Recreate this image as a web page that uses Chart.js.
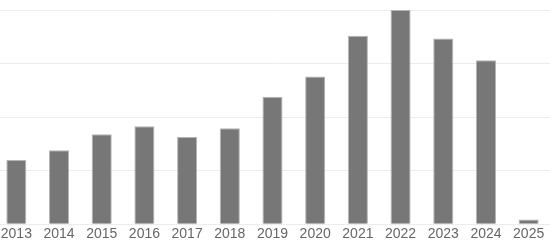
<!DOCTYPE html>
<html>
<head>
<meta charset="utf-8">
<script src="https://cdn.jsdelivr.net/npm/chart.js@4"></script>
<style>
    html, body { margin: 0; padding: 0; background: #fff; overflow: hidden; }
    #wrap { position: absolute; left: -5px; top: 0; width: 555px; height: 245px; }
</style>
</head>
<body>
<div id="wrap"><canvas id="yearChart"></canvas></div>
<script>
const years = ['2013', '2014', '2015', '2016', '2017', '2018', '2019',
    '2020', '2021', '2022', '2023', '2024', '2025'];
const counts = [120, 138, 168, 183, 163, 179, 238, 276, 352, 400, 347, 306, 9];
const yTicks = [0, 100, 200, 300, 400];

document.addEventListener('DOMContentLoaded', () => {
    const ctx = document.getElementById('yearChart');

    new Chart(ctx, {
        type: 'bar',
        data: {
            labels: years,
            datasets: [{
                label: 'Count',
                data: counts,
                backgroundColor: '#777777',
                borderColor: '#b5b5b5',
                borderWidth: 1,
                categoryPercentage: 1,
                barPercentage: 0.47,
            }],
        },
        options: {
            responsive: true,
            maintainAspectRatio: false,
            animation: false,
            layout: { padding: { top: 10, bottom: 0, left: 0, right: 0 } },
            plugins: {
                legend: { display: false },
                tooltip: { enabled: false },
            },
            scales: {
                x: {
                    grid: { display: false, drawTicks: false },
                    border: { display: false },
                    ticks: {
                        color: '#666666',
                        padding: 2,
                        maxRotation: 0,
                        autoSkip: false,
                        font: { family: 'Liberation Sans', size: 14 },
                    },
                },
                y: {
                    min: yTicks[0],
                    max: yTicks[yTicks.length - 1],
                    afterBuildTicks: scale => {
                        scale.ticks = yTicks.map(v => ({ value: v }));
                    },
                    afterFit: scale => { scale.width = 0; },
                    grid: { color: '#ececec', lineWidth: 1, drawTicks: false },
                    border: { display: false },
                    ticks: { display: false },
                },
            },
        },
    });
});
</script>
</body>
</html>
